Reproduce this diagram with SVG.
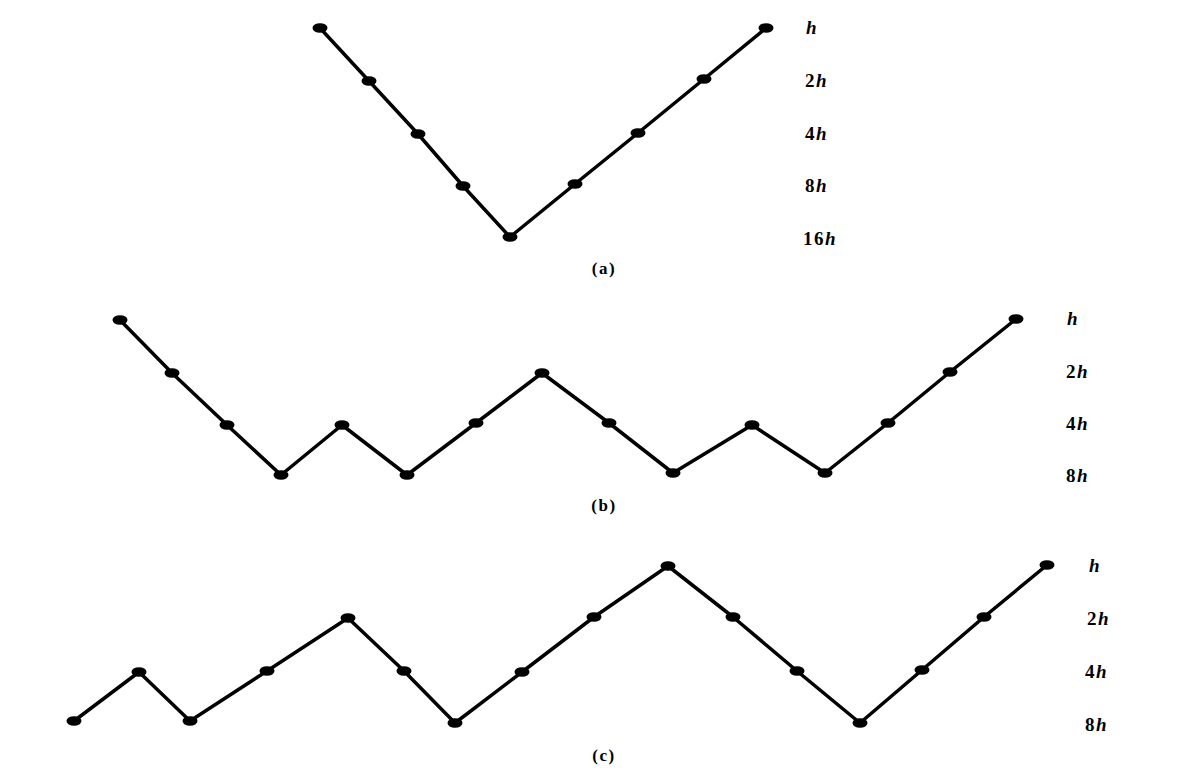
<svg xmlns="http://www.w3.org/2000/svg" width="1188" height="771" viewBox="0 0 1188 771">
<style>
.ln{fill:none;stroke:#000;stroke-width:3.5;stroke-linejoin:round}
.pt{fill:#000}
.lb{font-family:"Liberation Serif",serif;font-weight:bold;font-size:19px;letter-spacing:1.5px;fill:#000}
.it{font-style:italic}
.cap{font-family:"Liberation Serif",serif;font-weight:bold;font-size:17px;letter-spacing:1.5px;fill:#000}
</style>
<defs><ellipse id="d" rx="7.5" ry="4.8"/></defs>
<rect width="1188" height="771" fill="#fff"/>
<g id="connectors">
<polyline class="ln" points="320,28 369,81 418,134 463,186 510,237 575,184 638,133 704,79 766,28"/>
<polyline class="ln" points="120,320 172,373 227,425 281,475 342,425 407,475 476,423 542,373 609,423 673,473 752,425 825,473 888,423 950,372 1016,319"/>
<polyline class="ln" points="74,721 139,672 190,721 267,671 348,618 404,671 455,723 522,672 594,617 668,566 733,617 797,671 860,723 922,670 984,617 1047,565"/>
</g>
<g id="nodes-a" class="pt">
<use href="#d" x="320" y="28"/><use href="#d" x="369" y="81"/><use href="#d" x="418" y="134"/><use href="#d" x="463" y="186"/><use href="#d" x="510" y="237"/><use href="#d" x="575" y="184"/><use href="#d" x="638" y="133"/><use href="#d" x="704" y="79"/><use href="#d" x="766" y="28"/>
</g>
<g id="nodes-b" class="pt">
<use href="#d" x="120" y="320"/><use href="#d" x="172" y="373"/><use href="#d" x="227" y="425"/><use href="#d" x="281" y="475"/><use href="#d" x="342" y="425"/><use href="#d" x="407" y="475"/><use href="#d" x="476" y="423"/><use href="#d" x="542" y="373"/><use href="#d" x="609" y="423"/><use href="#d" x="673" y="473"/><use href="#d" x="752" y="425"/><use href="#d" x="825" y="473"/><use href="#d" x="888" y="423"/><use href="#d" x="950" y="372"/><use href="#d" x="1016" y="319"/>
</g>
<g id="nodes-c" class="pt">
<use href="#d" x="74" y="721"/><use href="#d" x="139" y="672"/><use href="#d" x="190" y="721"/><use href="#d" x="267" y="671"/><use href="#d" x="348" y="618"/><use href="#d" x="404" y="671"/><use href="#d" x="455" y="723"/><use href="#d" x="522" y="672"/><use href="#d" x="594" y="617"/><use href="#d" x="668" y="566"/><use href="#d" x="733" y="617"/><use href="#d" x="797" y="671"/><use href="#d" x="860" y="723"/><use href="#d" x="922" y="670"/><use href="#d" x="984" y="617"/><use href="#d" x="1047" y="565"/>
</g>
<g id="labels-a" class="lb">
<text x="806" y="34"><tspan class="it">h</tspan></text>
<text x="805" y="87">2<tspan class="it">h</tspan></text>
<text x="805" y="140">4<tspan class="it">h</tspan></text>
<text x="805" y="192">8<tspan class="it">h</tspan></text>
<text x="803" y="245">16<tspan class="it">h</tspan></text>
</g>
<g id="labels-b" class="lb">
<text x="1067" y="325"><tspan class="it">h</tspan></text>
<text x="1066" y="378">2<tspan class="it">h</tspan></text>
<text x="1066" y="430">4<tspan class="it">h</tspan></text>
<text x="1066" y="482">8<tspan class="it">h</tspan></text>
</g>
<g id="labels-c" class="lb">
<text x="1089" y="572"><tspan class="it">h</tspan></text>
<text x="1087" y="625">2<tspan class="it">h</tspan></text>
<text x="1085" y="678">4<tspan class="it">h</tspan></text>
<text x="1085" y="731">8<tspan class="it">h</tspan></text>
</g>
<g id="captions" class="cap" text-anchor="middle">
<text x="604" y="274">(a)</text>
<text x="604" y="511">(b)</text>
<text x="604" y="761">(c)</text>
</g>
</svg>
